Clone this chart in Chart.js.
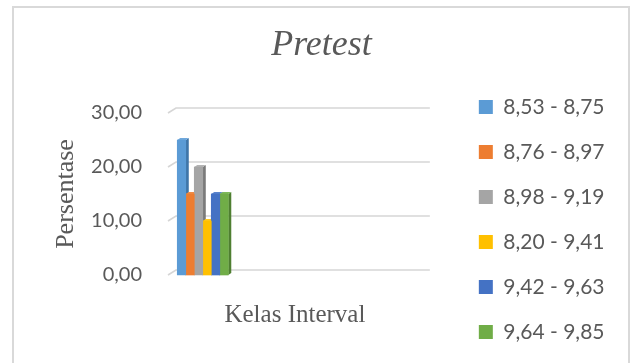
<!DOCTYPE html>
<html>
<head>
<meta charset="utf-8">
<script src="https://cdn.jsdelivr.net/npm/chart.js@4.4.1/dist/chart.umd.min.js"></script>
<style>
  html, body { margin: 0; padding: 0; background: #ffffff; }
  #wrap { position: relative; width: 630px; height: 363px; overflow: hidden; }
  #frame {
    position: absolute; left: 12px; top: 6px; width: 618px; height: 420px;
    box-sizing: border-box; border: 2px solid #d9d9d9; border-bottom: none;
  }
  canvas { position: absolute; left: 0; top: 0; }
</style>
</head>
<body>
<div id="wrap">
  <div id="frame"></div>
  <canvas id="chart" width="630" height="363"></canvas>
</div>
<script>
// Score intervals and the share of students in each (percent)
const intervals = ['8,53 - 8,75', '8,76 - 8,97', '8,98 - 9,19', '8,20 - 9,41', '9,42 - 9,63', '9,64 - 9,85'];
const percentages = [25, 15, 20, 10, 15, 15];
const yTicks = [0, 10, 20, 30];

const chartTitle = 'Pretest';
const xTitle = 'Kelas Interval';
const yTitle = 'Persentase';

// Office-style palette: front faces, darker right sides, lighter tops
const faceColors = ['#5B9BD5', '#ED7D31', '#A5A5A5', '#FFC000', '#4472C4', '#70AD47'];
const sideColors = ['#3F75A8', '#B65E22', '#7A7A7A', '#C29200', '#2F5597', '#4F7F31'];
const topColors  = ['#6FA8DC', '#F08B45', '#B3B3B3', '#FFC91F', '#5A84CC', '#7DB85A'];

const GRAY = '#595959';
const WALL_DX = 8, WALL_DY = 5;   // offset of the back wall behind the floor edge
const BAR_DX = 3, BAR_DY = 2;     // depth of each column

// Back-wall gridlines with their floor stubs, plus the side and top faces of the columns.
// Drawn before the datasets so each column's front face covers its neighbour's side.
const depthPlugin = {
  id: 'depth',
  beforeDatasetsDraw(chart) {
    const { ctx, chartArea } = chart;
    const yScale = chart.scales.y;
    ctx.save();
    ctx.strokeStyle = '#d6d6d6';
    ctx.lineWidth = 1.6;
    yTicks.forEach(v => {
      const py = yScale.getPixelForValue(v);
      ctx.beginPath();
      ctx.moveTo(chartArea.left, py);
      ctx.lineTo(chartArea.left + WALL_DX, py - WALL_DY);
      ctx.lineTo(chartArea.right + WALL_DX, py - WALL_DY);
      ctx.stroke();
    });
    chart.data.datasets.forEach((ds, i) => {
      const meta = chart.getDatasetMeta(i);
      meta.data.forEach(bar => {
        const { x, y, base, width } = bar.getProps(['x', 'y', 'base', 'width'], true);
        const l = x - width / 2, r = x + width / 2;
        ctx.fillStyle = sideColors[i];
        ctx.beginPath();
        ctx.moveTo(r, y);
        ctx.lineTo(r + BAR_DX, y - BAR_DY);
        ctx.lineTo(r + BAR_DX, base - BAR_DY);
        ctx.lineTo(r, base);
        ctx.closePath();
        ctx.fill();
        ctx.fillStyle = topColors[i];
        ctx.beginPath();
        ctx.moveTo(l, y);
        ctx.lineTo(l + BAR_DX, y - BAR_DY);
        ctx.lineTo(r + BAR_DX, y - BAR_DY);
        ctx.lineTo(r, y);
        ctx.closePath();
        ctx.fill();
      });
    });
    ctx.restore();
  }
};

Chart.defaults.font.family = 'Lato';
Chart.defaults.color = GRAY;

new Chart(document.getElementById('chart'), {
  type: 'bar',
  data: {
    datasets: intervals.map((label, i) => ({
      label,
      data: [{ x: 0, y: percentages[i] }],
      backgroundColor: faceColors[i],
      borderWidth: 0,
      barThickness: 8.5,
      clip: false
    }))
  },
  options: {
    responsive: false,
    animation: false,
    events: [],
    layout: { padding: { top: 0, left: 28.5, right: 15.5, bottom: -3.5 } },
    plugins: {
      title: {
        display: true,
        text: chartTitle,
        color: GRAY,
        font: { family: 'Liberation Serif', size: 36, style: 'italic', weight: 'normal' },
        padding: { top: 24.4, bottom: 45.4 }
      },
      legend: {
        position: 'right',
        align: 'end',
        maxWidth: 220,
        labels: {
          boxWidth: 14,
          boxHeight: 14,
          padding: 24,
          color: GRAY,
          font: { family: 'Lato', size: 21 }
        }
      },
      tooltip: { enabled: false }
    },
    scales: {
      x: {
        type: 'linear',
        min: -0.5,
        max: 3.15,
        offset: false,
        ticks: { display: false },
        grid: { display: false, drawTicks: false },
        border: { display: false },
        title: {
          display: true,
          text: xTitle,
          color: GRAY,
          font: { family: 'Liberation Serif', size: 25 },
          padding: { top: 25, bottom: 36.5 }
        }
      },
      y: {
        min: 0,
        max: 30,
        afterBuildTicks: s => { s.ticks = yTicks.map(v => ({ value: v })); },
        afterFit: s => { s.width = 139.5; },
        ticks: {
          padding: 26,
          color: GRAY,
          font: { family: 'Lato', size: 20 },
          callback: v => v.toFixed(2).replace('.', ',')
        },
        grid: { display: false, drawTicks: false },
        border: { display: false },
        title: {
          display: true,
          text: yTitle,
          color: GRAY,
          font: { family: 'Liberation Serif', size: 26 },
          padding: { top: 21.9, bottom: 0 }
        }
      },
      // keeps room between the plot and the legend
      gap: {
        type: 'linear',
        position: 'right',
        ticks: { display: false },
        grid: { display: false, drawTicks: false },
        border: { display: false },
        afterFit: s => { s.width = 33; }
      }
    }
  },
  plugins: [depthPlugin]
});
</script>
</body>
</html>
